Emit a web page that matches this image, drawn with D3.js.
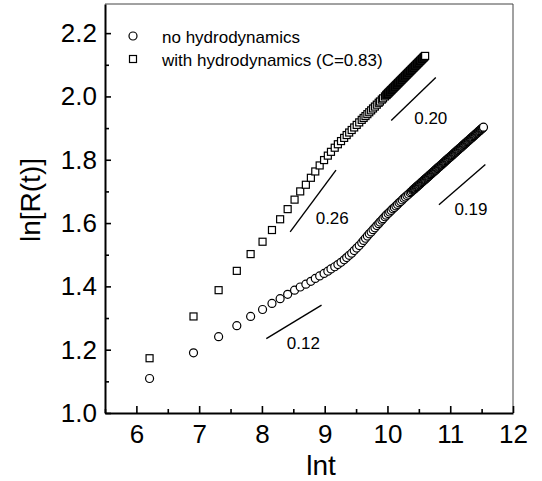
<!DOCTYPE html>
<html>
<head>
<meta charset="utf-8">
<script src="https://cdn.jsdelivr.net/npm/d3@7"></script>
<style>
  body { margin: 0; background: #fff; }
  text { font-family: "Liberation Sans", Arial, sans-serif; fill: #000; }
</style>
</head>
<body>
<div id="chart"></div>
<script>

// Series: ln t and ln R(t)
var noHydroX = [6.21, 6.91, 7.31, 7.60, 7.82, 8.01, 8.16, 8.29, 8.41, 8.52,
  8.61, 8.70, 8.78, 8.85, 8.92, 8.99, 9.05, 9.10, 9.16, 9.21,
  9.26, 9.31, 9.35, 9.39, 9.43, 9.47, 9.51, 9.55, 9.59, 9.62,
  9.65, 9.68, 9.71, 9.74, 9.77, 9.80, 9.83, 9.86, 9.88, 9.91,
  9.93, 9.96, 9.98, 10.01, 10.035, 10.06, 10.085, 10.11, 10.135, 10.16,
  10.185, 10.21, 10.235, 10.26, 10.285, 10.31, 10.335, 10.36, 10.38,
  10.40, 10.41, 10.42, 10.43, 10.44, 10.45, 10.46, 10.47, 10.48, 10.49,
  10.50, 10.51, 10.52, 10.53, 10.54, 10.55, 10.56, 10.57, 10.58, 10.59,
  10.60, 10.61, 10.62, 10.63, 10.64, 10.65, 10.66, 10.67, 10.68, 10.69,
  10.70, 10.71, 10.72, 10.73, 10.74, 10.75, 10.76, 10.77, 10.78, 10.79,
  10.80, 10.81, 10.82, 10.83, 10.84, 10.85, 10.86, 10.87, 10.88, 10.89,
  10.90, 10.91, 10.92, 10.93, 10.94, 10.95, 10.96, 10.97, 10.98, 10.99,
  11.00, 11.01, 11.02, 11.03, 11.04, 11.05, 11.06, 11.07, 11.08, 11.09,
  11.10, 11.11, 11.12, 11.13, 11.14, 11.15, 11.16, 11.17, 11.18, 11.19,
  11.20, 11.21, 11.22, 11.23, 11.24, 11.25, 11.26, 11.27, 11.28, 11.29,
  11.30, 11.31, 11.32, 11.33, 11.34, 11.35, 11.36, 11.37, 11.38, 11.39,
  11.40, 11.41, 11.42, 11.43, 11.44, 11.45, 11.46, 11.47, 11.48, 11.49,
  11.50, 11.51, 11.52, 11.53];
var noHydroY = [1.109, 1.190, 1.241, 1.276, 1.305, 1.327, 1.346, 1.361, 1.375, 1.388,
  1.398, 1.407, 1.416, 1.425, 1.433, 1.441, 1.448, 1.455, 1.462, 1.469,
  1.476, 1.484, 1.491, 1.498, 1.505, 1.513, 1.521, 1.529, 1.538, 1.545,
  1.552, 1.559, 1.566, 1.572, 1.579, 1.585, 1.592, 1.598, 1.603, 1.609,
  1.614, 1.620, 1.625, 1.630, 1.635, 1.640, 1.645, 1.649, 1.654, 1.659,
  1.664, 1.668, 1.673, 1.678, 1.682, 1.687, 1.691, 1.696, 1.699,
  1.703, 1.705, 1.707, 1.708, 1.710, 1.712, 1.714, 1.715, 1.717, 1.719,
  1.721, 1.722, 1.724, 1.726, 1.728, 1.730, 1.731, 1.733, 1.735, 1.737,
  1.738, 1.740, 1.742, 1.744, 1.745, 1.747, 1.749, 1.751, 1.753, 1.754,
  1.756, 1.758, 1.760, 1.761, 1.763, 1.765, 1.767, 1.768, 1.770, 1.772,
  1.774, 1.776, 1.777, 1.779, 1.781, 1.783, 1.784, 1.786, 1.788, 1.790,
  1.791, 1.793, 1.795, 1.797, 1.799, 1.800, 1.802, 1.804, 1.806, 1.807,
  1.809, 1.811, 1.813, 1.814, 1.816, 1.818, 1.820, 1.822, 1.823, 1.825,
  1.827, 1.829, 1.830, 1.832, 1.834, 1.836, 1.837, 1.839, 1.841, 1.843,
  1.845, 1.846, 1.848, 1.850, 1.852, 1.853, 1.855, 1.857, 1.859, 1.860,
  1.862, 1.864, 1.866, 1.868, 1.869, 1.871, 1.873, 1.875, 1.876, 1.878,
  1.880, 1.882, 1.883, 1.885, 1.887, 1.889, 1.891, 1.892, 1.894, 1.896,
  1.898, 1.899, 1.901, 1.903];

var hydroX = [6.21, 6.91, 7.31, 7.60, 7.82, 8.01, 8.16, 8.29, 8.41, 8.52,
  8.61, 8.70, 8.78, 8.85, 8.92, 8.99, 9.05, 9.10, 9.16, 9.21,
  9.26, 9.31, 9.35, 9.39, 9.43, 9.47, 9.51, 9.55, 9.59, 9.62,
  9.65, 9.68, 9.71, 9.74, 9.77, 9.80, 9.83, 9.86, 9.88, 9.91,
  9.93, 9.96,
  9.98, 9.99, 10.00, 10.01, 10.02, 10.03, 10.04, 10.05, 10.06, 10.07,
  10.08, 10.09, 10.10, 10.11, 10.12, 10.13, 10.14, 10.15, 10.16, 10.17,
  10.18, 10.19, 10.20, 10.21, 10.22, 10.23, 10.24, 10.25, 10.26, 10.27,
  10.28, 10.29, 10.30, 10.31, 10.32, 10.33, 10.34, 10.35, 10.36, 10.37,
  10.38, 10.39, 10.40, 10.41, 10.42, 10.43, 10.44, 10.45, 10.46, 10.47,
  10.48, 10.49, 10.50, 10.51, 10.52, 10.53, 10.54, 10.55, 10.56, 10.57,
  10.58, 10.59, 10.60];
var hydroY = [1.173, 1.305, 1.388, 1.449, 1.502, 1.541, 1.578, 1.612, 1.644, 1.674,
  1.700, 1.721, 1.743, 1.763, 1.782, 1.799, 1.813, 1.825, 1.838, 1.849,
  1.859, 1.869, 1.878, 1.886, 1.894, 1.902, 1.910, 1.918, 1.926, 1.932,
  1.938, 1.944, 1.950, 1.956, 1.962, 1.968, 1.974, 1.980, 1.984, 1.990,
  1.994, 2.000,
  2.004, 2.006, 2.008, 2.010, 2.012, 2.014, 2.016, 2.018, 2.020, 2.022,
  2.024, 2.026, 2.028, 2.030, 2.032, 2.034, 2.036, 2.038, 2.040, 2.042,
  2.044, 2.046, 2.048, 2.050, 2.052, 2.054, 2.056, 2.058, 2.060, 2.062,
  2.064, 2.066, 2.068, 2.070, 2.072, 2.074, 2.076, 2.078, 2.080, 2.082,
  2.084, 2.086, 2.088, 2.090, 2.092, 2.094, 2.096, 2.098, 2.100, 2.102,
  2.104, 2.106, 2.108, 2.110, 2.112, 2.114, 2.116, 2.118, 2.120, 2.122,
  2.124, 2.126, 2.128];

// Slope guide lines and their labels
var slopeNames = ["0.12", "0.26", "0.20", "0.19"];
var slopeX1 = [8.07, 8.45, 10.06, 10.82];
var slopeY1 = [1.235, 1.572, 1.924, 1.658];
var slopeX2 = [8.95, 9.18, 10.77, 11.56];
var slopeY2 = [1.341, 1.767, 2.060, 1.785];
var slopeLabelX = [8.66, 9.12, 10.69, 11.33];
var slopeLabelY = [1.202, 1.598, 1.913, 1.624];

var xTicks = [6, 7, 8, 9, 10, 11, 12];
var xMinor = [5.5, 6.5, 7.5, 8.5, 9.5, 10.5, 11.5];
var yTicks = [1.0, 1.2, 1.4, 1.6, 1.8, 2.0, 2.2];
var yMinor = [1.1, 1.3, 1.5, 1.7, 1.9, 2.1];
var legendNames = ["no hydrodynamics", "with hydrodynamics (C=0.83)"];

var width = 542, height = 481;
var margin = {top: 4, right: 29, bottom: 68, left: 105};

var svg = d3.select("#chart")
  .append("svg")
  .attr("width", width)
  .attr("height", height);

var x = d3.scaleLinear()
  .domain([5.5, 12])
  .range([margin.left, width - margin.right]);

var y = d3.scaleLinear()
  .domain([1.0, 2.292])
  .range([height - margin.bottom, margin.top]);

// Frame on top and right
svg.append("path")
  .attr("d", "M" + x(5.5) + "," + y(2.292) + "H" + x(12) + "V" + y(1.0))
  .attr("fill", "none")
  .attr("stroke", "#444")
  .attr("stroke-width", 1);

// Bottom axis, ticks pointing inward
svg.append("g")
  .attr("transform", "translate(0," + y(1.0) + ")")
  .call(d3.axisBottom(x).tickValues(xTicks).tickSizeInner(-7).tickSizeOuter(0)
    .tickPadding(12).tickFormat(d3.format("d")));

svg.append("g")
  .attr("transform", "translate(0," + y(1.0) + ")")
  .call(d3.axisBottom(x).tickValues(xMinor).tickSizeInner(-4).tickSizeOuter(0).tickFormat(""))
  .select(".domain").remove();

// Left axis
svg.append("g")
  .attr("transform", "translate(" + x(5.5) + ",0)")
  .call(d3.axisLeft(y).tickValues(yTicks).tickSizeInner(-6).tickSizeOuter(0)
    .tickPadding(8).tickFormat(d3.format(".1f")));

svg.append("g")
  .attr("transform", "translate(" + x(5.5) + ",0)")
  .call(d3.axisLeft(y).tickValues(yMinor).tickSizeInner(-4).tickSizeOuter(0).tickFormat(""))
  .select(".domain").remove();

svg.selectAll(".domain").attr("stroke-width", 2);
svg.selectAll(".tick line").attr("stroke-width", 1.6);
svg.selectAll(".tick text").style("font-size", "26px");

// Axis titles
svg.append("text")
  .attr("x", 321)
  .attr("y", 475)
  .attr("text-anchor", "middle")
  .style("font-size", "28px")
  .text("lnt");

svg.append("text")
  .attr("transform", "translate(40,200) rotate(-90)")
  .attr("text-anchor", "middle")
  .style("font-size", "28px")
  .text("ln[R(t)]");

// Data markers
var circleData = noHydroX.map(function(d, i) { return [d, noHydroY[i]]; });
var squareData = hydroX.map(function(d, i) { return [d, hydroY[i]]; });
var side = 7;

svg.append("g").selectAll("circle")
  .data(circleData)
  .enter()
  .append("circle")
  .attr("cx", function(d) { return x(d[0]); })
  .attr("cy", function(d) { return y(d[1]); })
  .attr("r", 4)
  .attr("fill", "#fff")
  .attr("stroke", "#000")
  .attr("stroke-width", 1.2);

svg.append("g").selectAll("rect")
  .data(squareData)
  .enter()
  .append("rect")
  .attr("x", function(d) { return x(d[0]) - side / 2; })
  .attr("y", function(d) { return y(d[1]) - side / 2; })
  .attr("width", side)
  .attr("height", side)
  .attr("fill", "#fff")
  .attr("stroke", "#000")
  .attr("stroke-width", 1.2);

// Slope guides
svg.append("g").selectAll("line")
  .data(slopeNames)
  .enter()
  .append("line")
  .attr("x1", function(d, i) { return x(slopeX1[i]); })
  .attr("y1", function(d, i) { return y(slopeY1[i]); })
  .attr("x2", function(d, i) { return x(slopeX2[i]); })
  .attr("y2", function(d, i) { return y(slopeY2[i]); })
  .attr("stroke", "#000")
  .attr("stroke-width", 1.4);

svg.append("g").selectAll("text")
  .data(slopeNames)
  .enter()
  .append("text")
  .attr("x", function(d, i) { return x(slopeLabelX[i]); })
  .attr("y", function(d, i) { return y(slopeLabelY[i]); })
  .attr("text-anchor", "middle")
  .style("font-size", "17px")
  .text(function(d) { return d; });

// Legend
var legend = svg.append("g");

legend.append("circle")
  .attr("cx", 133)
  .attr("cy", 36)
  .attr("r", 4)
  .attr("fill", "#fff")
  .attr("stroke", "#000")
  .attr("stroke-width", 1.2);

legend.append("rect")
  .attr("x", 133 - side / 2)
  .attr("y", 59 - side / 2)
  .attr("width", side)
  .attr("height", side)
  .attr("fill", "#fff")
  .attr("stroke", "#000")
  .attr("stroke-width", 1.2);

legend.selectAll("text")
  .data(legendNames)
  .enter()
  .append("text")
  .attr("x", 162)
  .attr("y", function(d, i) { return 43 + i * 23; })
  .style("font-size", "17px")
  .text(function(d) { return d; });

</script>
</body>
</html>
